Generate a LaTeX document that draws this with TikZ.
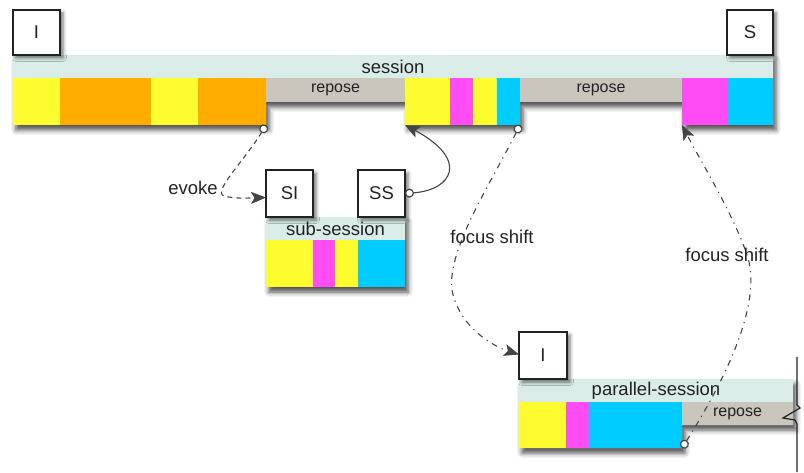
\documentclass[tikz,border=0pt]{standalone}
\usepackage{fontspec}
\setmainfont{Liberation Sans}
\usetikzlibrary{arrows.meta,shadows.blur}

\definecolor{cYel}{HTML}{FCFC2E}
\definecolor{cOra}{HTML}{FFAD00}
\definecolor{cMag}{HTML}{FF4CF5}
\definecolor{cCya}{HTML}{00CCFF}
\definecolor{cBand}{HTML}{D9ECE7}
\definecolor{cRep}{HTML}{C9C6BD}
\definecolor{cInk}{HTML}{222222}
\definecolor{cLink}{HTML}{444444}

\tikzset{
  x=1pt, y=-1pt,
  every node/.style={text=cInk},
  bigtext/.style={font=\fontsize{18.5}{20}\selectfont},
  smalltext/.style={font=\fontsize{16}{18}\selectfont},
  cell/.style={inner sep=0pt, outer sep=0pt, anchor=north west},
  marker/.style={cell, draw=cInk, line width=1.3pt, fill=white, bigtext,
    blur shadow={shadow xshift=3pt, shadow yshift=-3pt, shadow blur radius=3.5pt, shadow opacity=55}},
  outline/.style={fill=white,
    blur shadow={shadow xshift=3pt, shadow yshift=-5pt, shadow blur radius=5pt, shadow opacity=70}},
  link/.style={draw=cLink, line width=1.1pt,
    {Circle[open,length=9pt,width=9pt,fill=white,line width=1.2pt]}-{Stealth[length=15pt,width=12pt,inset=3.5pt,fill=cLink,line width=0.6pt]}},
  dashlink/.style={link, dash pattern=on 5pt off 4pt},
  dotlink/.style={link, dash pattern=on 6pt off 5pt on 1.2pt off 5pt},
}

\begin{document}
\begin{tikzpicture}
\useasboundingbox (0,0) rectangle (804,473);

% ---------- shadows of the three timelines ----------
\path[outline] (13,55) -- (773,55) -- (773,125) -- (682,125) -- (682,102)
  -- (520,102) -- (520,125) -- (405,125) -- (405,102) -- (266,102)
  -- (266,125) -- (13,125) -- cycle;
\path[outline] (266,217) rectangle (405,287);
\path[outline] (519,379) -- (793,379) -- (793,425) -- (682,425)
  -- (682,448) -- (519,448) -- cycle;

% ---------- main session ----------
\node[cell, fill=cBand, minimum width=760, minimum height=23, bigtext] (band) at (13,55) {session};
\node[cell, fill=cYel, minimum width=47, minimum height=47] (s1) at (13,78) {};
\node[cell, fill=cOra, minimum width=91, minimum height=47] (s2) at (60,78) {};
\node[cell, fill=cYel, minimum width=47, minimum height=47] (s3) at (151,78) {};
\node[cell, fill=cOra, minimum width=68, minimum height=47] (s4) at (198,78) {};
\node[cell, fill=cRep, minimum width=139, minimum height=24, smalltext] (rep1) at (266,78) {repose};
\node[cell, fill=cYel, minimum width=45, minimum height=47] (s5) at (405,78) {};
\node[cell, fill=cMag, minimum width=23, minimum height=47] (s6) at (450,78) {};
\node[cell, fill=cYel, minimum width=24, minimum height=47] (s7) at (473,78) {};
\node[cell, fill=cCya, minimum width=23, minimum height=47] (s8) at (497,78) {};
\node[cell, fill=cRep, minimum width=162, minimum height=24, smalltext] (rep2) at (520,78) {repose};
\node[cell, fill=cMag, minimum width=46, minimum height=47] (s9) at (682,78) {};
\node[cell, fill=cCya, minimum width=45, minimum height=47] (s10) at (728,78) {};
\node[marker, minimum width=47, minimum height=45] (mI) at (13,10) {I};
\node[marker, minimum width=46, minimum height=45] (mS) at (727,10) {S};

% ---------- sub-session ----------
\node[cell, fill=cBand, minimum width=139, minimum height=23, bigtext] (sband) at (266,217) {sub-session};
\node[cell, fill=cYel, minimum width=47, minimum height=47] (u1) at (266,240) {};
\node[cell, fill=cMag, minimum width=22, minimum height=47] (u2) at (313,240) {};
\node[cell, fill=cYel, minimum width=23, minimum height=47] (u3) at (335,240) {};
\node[cell, fill=cCya, minimum width=47, minimum height=47] (u4) at (358,240) {};
\node[marker, minimum width=47, minimum height=47] (SI) at (266,170) {SI};
\node[marker, minimum width=47, minimum height=47] (SS) at (358,170) {SS};

% ---------- parallel session ----------
\node[cell, fill=cBand, minimum width=274, minimum height=23, bigtext] (pband) at (519,379) {parallel-session};
\node[cell, fill=cYel, minimum width=47, minimum height=46] (p1) at (519,402) {};
\node[cell, fill=cMag, minimum width=23, minimum height=46] (p2) at (566,402) {};
\node[cell, fill=cCya, minimum width=93, minimum height=46] (p3) at (589,402) {};
\node[cell, fill=cRep, minimum width=111, minimum height=23, smalltext] (rep3) at (682,402) {repose};
\node[marker, minimum width=48, minimum height=47] (pI) at (519,332) {I};

% torn edge of the parallel session
\draw[cInk, line width=1.2pt, line join=miter]
  (797,357) -- (797,405) -- (800,408) -- (783,418) -- (795,420)
  -- (797,424) -- (797,472);

% ---------- connectors ----------
\draw[dashlink] (s4.south east) .. controls (245,160) and (212,192) .. (224,196)
  .. controls (235,199) and (248,198) .. ([yshift=-4pt]SI.west);
\node[bigtext] (evk) at (193,188) {evoke};

\draw[link] (SS.east) .. controls (452,190) and (470,160) .. (s5.south west);

\draw[dotlink] (s8.south east) .. controls (490,185) and (440,260) .. (454,298)
  .. controls (464,330) and (495,347) .. ([yshift=1pt]pI.west);
\node[bigtext] (fs1) at (492,237) {focus shift};

\draw[dotlink] (p3.south east) .. controls (725,380) and (765,300) .. (746,252)
  .. controls (732,212) and (700,160) .. (s9.south west);
\node[bigtext] (fs2) at (727,255) {focus shift};

\end{tikzpicture}
\end{document}
